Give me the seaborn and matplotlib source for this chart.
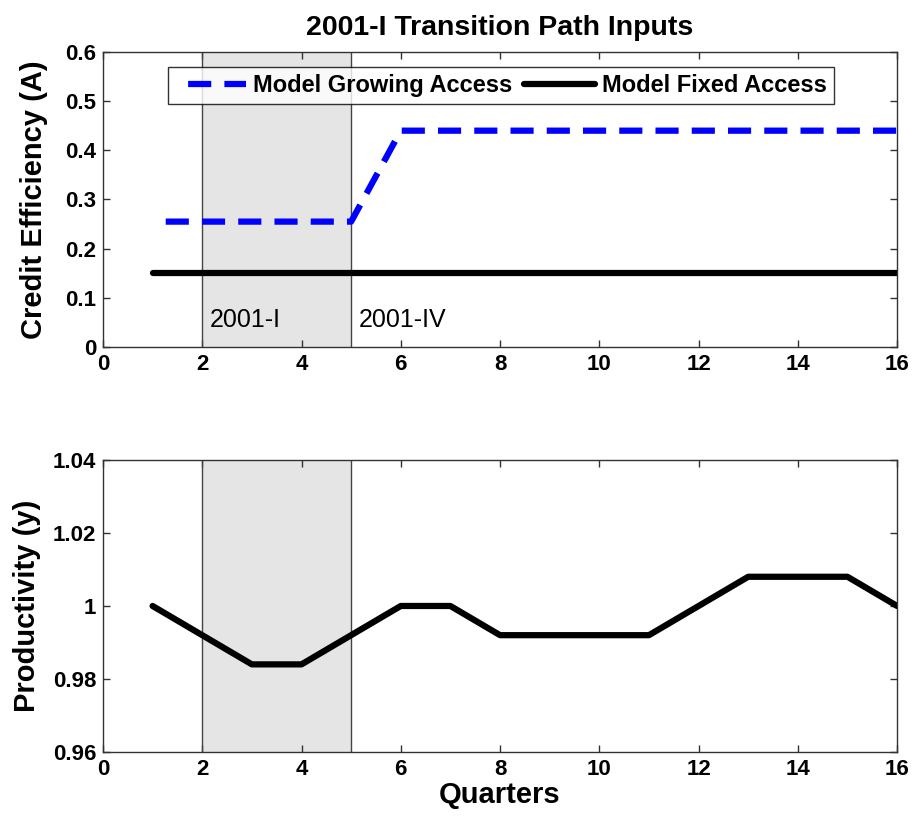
import matplotlib
matplotlib.use("Agg")
import matplotlib.pyplot as plt
import seaborn as sns
import pandas as pd

# Data
quarters = list(range(1, 17))
growing_access = [0.255, 0.255, 0.255, 0.255, 0.255, 0.44, 0.44, 0.44,
                  0.44, 0.44, 0.44, 0.44, 0.44, 0.44, 0.44, 0.44]
fixed_access = [0.15] * 16
productivity = [1.0, 0.992, 0.984, 0.984, 0.992, 1.0, 1.0, 0.992,
                0.992, 0.992, 0.992, 1.0, 1.008, 1.008, 1.008, 1.0]
shade_start, shade_end = 2, 5
shade_labels = ["2001-I", "2001-IV"]

sns.set_theme(style="ticks")
plt.rcParams['font.family'] = ['Liberation Sans', 'DejaVu Sans']
plt.rcParams['xtick.direction'] = 'in'
plt.rcParams['ytick.direction'] = 'in'
plt.rcParams['xtick.top'] = True
plt.rcParams['ytick.right'] = True
plt.rcParams['axes.linewidth'] = 1.0
plt.rcParams['text.color'] = 'black'
plt.rcParams['axes.labelcolor'] = 'black'
plt.rcParams['xtick.labelcolor'] = 'black'
plt.rcParams['ytick.labelcolor'] = 'black'

df_top = pd.DataFrame({"q": quarters, "grow": growing_access, "fixed": fixed_access})
df_bot = pd.DataFrame({"q": quarters, "prod": productivity})

fig = plt.figure(figsize=(9.16, 8.23), dpi=100)
ax1 = fig.add_axes([0.1124, 0.5784, 0.867, 0.3584])
ax2 = fig.add_axes([0.1124, 0.0863, 0.867, 0.3548])

for ax in (ax1, ax2):
    ax.axvspan(shade_start, shade_end, color='#e5e5e5', zorder=0, lw=0)
    ax.axvline(shade_start, color='#444444', lw=1.0, zorder=1)
    ax.axvline(shade_end, color='#444444', lw=1.0, zorder=1)

# dashed line starts with a gap, like the MATLAB output
dash_style = (3.7, (3.7, 2.1))
sns.lineplot(data=df_top, x="q", y="grow", ax=ax1, color='#0000ff', lw=4.5,
             label="Model Growing Access", zorder=3)
ax1.lines[-1].set_linestyle(dash_style)
sns.lineplot(data=df_top, x="q", y="fixed", ax=ax1, color='black', lw=4.5,
             label="Model Fixed Access", zorder=3)

ax1.text(shade_start + 0.15, 0.04, shade_labels[0], fontsize=18)
ax1.text(shade_end + 0.15, 0.04, shade_labels[1], fontsize=18)

ax1.set_xlim(0, 16)
ax1.set_ylim(0, 0.6)
ax1.set_xticks(range(0, 17, 2))
ax1.set_yticks([0, 0.1, 0.2, 0.3, 0.4, 0.5, 0.6])
ax1.set_yticklabels(["0", "0.1", "0.2", "0.3", "0.4", "0.5", "0.6"])
ax1.set_xlabel("")
ax1.set_ylabel("Credit Efficiency (A)", fontsize=21, fontweight='bold')
ax1.yaxis.set_label_coords(-0.069, 0.5)
ax1.set_title("2001-I Transition Path Inputs", fontsize=20.5, fontweight='bold', pad=12)
leg = ax1.legend(loc='upper center', bbox_to_anchor=(0.501, 0.949), ncol=2, fontsize=17,
                 frameon=True, fancybox=False, edgecolor='black', handlelength=3.0,
                 handletextpad=0.3, columnspacing=0.5, borderpad=0.3, borderaxespad=0)
leg.get_frame().set_linewidth(1.0)
leg.legend_handles[0].set_linestyle(dash_style)
for t in leg.get_texts():
    t.set_fontweight('bold')

sns.lineplot(data=df_bot, x="q", y="prod", ax=ax2, color='black', lw=4.5, zorder=3)
ax2.set_xlim(0, 16)
ax2.set_ylim(0.96, 1.04)
ax2.set_xticks(range(0, 17, 2))
ax2.set_yticks([0.96, 0.98, 1.0, 1.02, 1.04])
ax2.set_yticklabels(["0.96", "0.98", "1", "1.02", "1.04"])
ax2.set_xlabel("Quarters", fontsize=21, fontweight='bold', labelpad=1)
ax2.set_ylabel("Productivity (y)", fontsize=21, fontweight='bold')
ax2.yaxis.set_label_coords(-0.078, 0.5)

for ax in (ax1, ax2):
    for lab in ax.get_xticklabels() + ax.get_yticklabels():
        lab.set_fontweight('bold')
        lab.set_fontsize(16)
    ax.tick_params(length=5, width=1, color='#333333', pad=5)
    for s in ax.spines.values():
        s.set_color('#333333')

fig.savefig("out.png", dpi=100)
